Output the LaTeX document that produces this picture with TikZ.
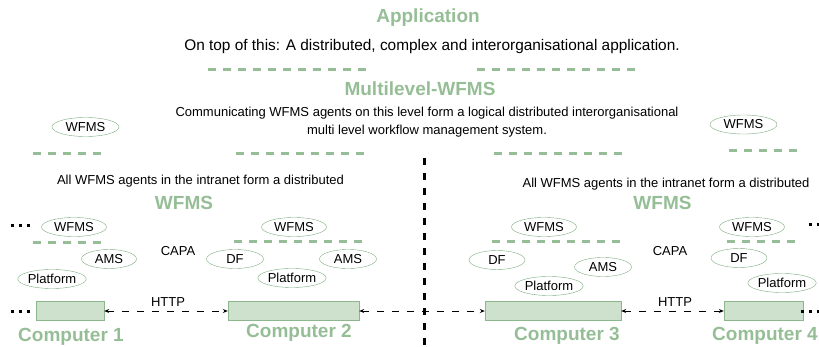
\documentclass[tikz,border=0pt]{standalone}
\usepackage{fontspec}
\setmainfont{Liberation Sans}
\usetikzlibrary{shapes.geometric,arrows.meta}
\definecolor{lgreen}{RGB}{150,190,150}
\definecolor{egreen}{RGB}{125,172,125}
\definecolor{bfill}{RGB}{205,225,205}
\definecolor{bdraw}{RGB}{140,182,140}

\begin{document}
\begin{tikzpicture}[
  x=1pt,
  y=-1pt,
  myell/.style={
    ellipse,
    draw=egreen,
    fill=white,
    inner sep=0pt,
    minimum height=19pt,
    minimum width=#1,
    font=\fontsize{13}{15}\selectfont
  },
  mybox/.style={
    rectangle,
    fill=bfill,
    draw=bdraw,
    inner sep=0pt,
    minimum height=19pt,
    minimum width=#1
  },
  mytitle/.style={
    inner sep=0pt,
    text=lgreen,
    font=\fontsize{19}{22}\selectfont\bfseries
  },
  mytext/.style={
    inner sep=0pt,
    align=center,
    font=\fontsize{13}{18}\selectfont
  },
  mylayer/.style={
    draw=lgreen,
    line width=3pt,
    dash pattern=on 8pt off 7pt
  },
  mylink/.style={
    {Stealth[length=5pt,width=4pt]}-{Stealth[length=5pt,width=4pt]},
    line width=0.8pt,
    dash pattern=on 7pt off 8pt
  },
  mydots/.style={
    line width=3pt,
    dash pattern=on 3pt off 5pt
  }
]
\useasboundingbox (0,0) rectangle (819,347);
\node[mytitle] (app) at (428,18) {Application};
\node[mytext, font=\fontsize{15.4}{18}\selectfont] (apptxt) at (432,47) {On top of this: A distributed, complex and interorganisational application.};
\draw[mylayer] (208,70) -- (368,70);
\draw[mylayer] (477,70) -- (637,70);
\node[mytitle] (mlw) at (420,89) {Multilevel-WFMS};
\node[mytext] (mlwtxt) at (427,122) {Communicating WFMS agents on this level form a logical distributed interorganisational\\multi level workflow management system.};
\node[myell=67pt] (mwl) at (85.5,127) {WFMS};
\node[myell=67pt] (mwr) at (743.5,124.5) {WFMS};
\draw[mylayer] (33,154) -- (104,154);
\draw[mylayer] (236,154) -- (369,154);
\draw[mylayer] (494,154) -- (628,154);
\draw[mylayer] (729,151) -- (800,151);
\draw[line width=3pt, dash pattern=on 7pt off 8pt] (424,158) -- (424,347);
\node[mytext] (lantxt1) at (200.5,181) {All WFMS agents in the intranet form a distributed};
\node[mytitle] (wfms1) at (184,203) {WFMS};
\node[mytext] (lantxt2) at (666,184) {All WFMS agents in the intranet form a distributed};
\node[mytitle] (wfms2) at (662.5,203) {WFMS};
\node[myell=65pt] (w1) at (74,227) {WFMS};
\node[myell=65pt] (w2) at (294,227) {WFMS};
\node[myell=65pt] (w3) at (544,227) {WFMS};
\node[myell=65pt] (w4) at (752,227) {WFMS};
\draw[mylayer] (33,243) -- (104,243);
\draw[mylayer] (234,242) -- (368,242);
\draw[mylayer] (492,242) -- (626,242);
\draw[mylayer] (727,242) -- (798,242);
\node[mytext] (capa1) at (178,251) {CAPA};
\node[mytext] (capa2) at (670,251) {CAPA};
\node[myell=55pt] (ams1) at (109,259) {AMS};
\node[myell=66pt] (plat1) at (52,279) {Platform};
\node[myell=57pt] (df2) at (235,259) {DF};
\node[myell=57pt] (ams2) at (348,259) {AMS};
\node[myell=66pt] (plat2) at (292,278) {Platform};
\node[myell=56pt] (df3) at (497,260) {DF};
\node[myell=57pt] (ams3) at (603,267) {AMS};
\node[myell=60pt] (plat3) at (549,286) {Platform};
\node[myell=56pt] (df4) at (739,258) {DF};
\node[myell=60pt] (plat4) at (782,283) {Platform};
\node[mybox=68pt] (c1) at (70,311) {};
\node[mybox=131pt] (c2) at (293.5,311) {};
\node[mybox=136pt] (c3) at (553,311) {};
\node[mybox=79pt] (c4) at (763.5,311) {};
\node[mytitle] (c1lab) at (71,337) {Computer 1};
\node[mytitle] (c2lab) at (299,333) {Computer 2};
\node[mytitle] (c3lab) at (567,336) {Computer 3};
\node[mytitle] (c4lab) at (765,336) {Computer 4};
\node[mytext] (http1) at (168,302) {HTTP};
\node[mytext] (http2) at (675,302) {HTTP};
\draw[mylink] (c1.east) -- (c2.west);
\draw[mylink] (c2.east) -- (c3.west);
\draw[mylink] (c3.east) -- (c4.west);
\coordinate (dotc1a) at (10.5,311);
\coordinate (dotc1b) at (30,311);
\coordinate (dotw1a) at (10.5,226);
\coordinate (dotw1b) at (30,226);
\coordinate (dotw4a) at (808.5,225);
\coordinate (dotw4b) at (822,225);
\coordinate (dotc4a) at (800.5,311);
\coordinate (dotc4b) at (822,311);
\draw[mydots] (dotc1a) -- (dotc1b);
\draw[mydots] (dotw1a) -- (dotw1b);
\draw[mydots] (dotw4a) -- (dotw4b);
\draw[mydots] (dotc4a) -- (dotc4b);
\end{tikzpicture}
\end{document}
